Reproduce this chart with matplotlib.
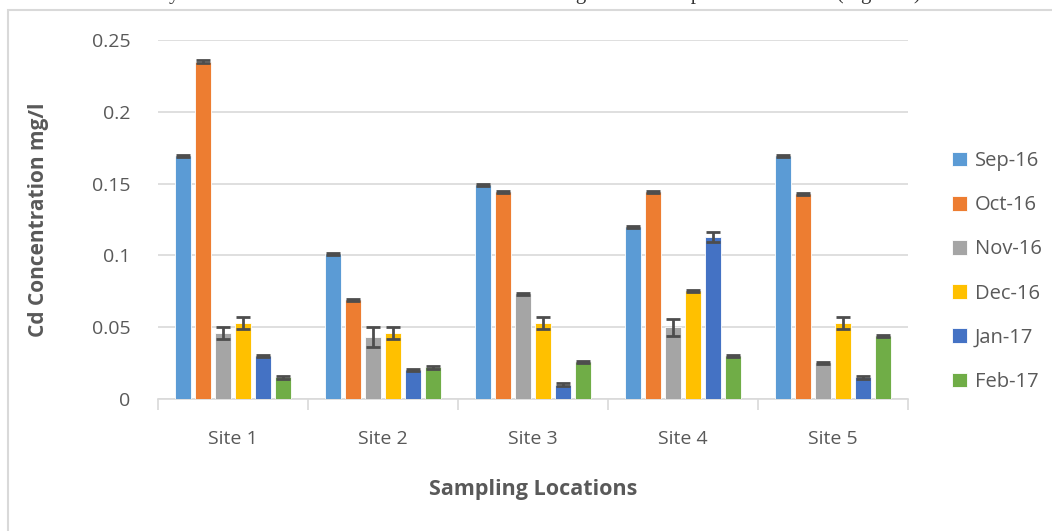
import numpy as np
import matplotlib
matplotlib.use("Agg")
import matplotlib.pyplot as plt
from matplotlib.patches import Rectangle

sites = ["Site 1", "Site 2", "Site 3", "Site 4", "Site 5"]
months = ["Sep-16", "Oct-16", "Nov-16", "Dec-16", "Jan-17", "Feb-17"]
colors = ["#5B9BD5", "#ED7D31", "#A5A5A5", "#FFC000", "#4472C4", "#70AD47"]

sep16 = [0.169, 0.101, 0.149, 0.120, 0.169]
oct16 = [0.235, 0.069, 0.144, 0.144, 0.143]
nov16 = [0.046, 0.043, 0.073, 0.050, 0.025]
dec16 = [0.053, 0.046, 0.053, 0.075, 0.053]
jan17 = [0.030, 0.020, 0.010, 0.113, 0.015]
feb17 = [0.015, 0.022, 0.026, 0.030, 0.044]

sep16_err = [0.0008, 0.0008, 0.0008, 0.0008, 0.0008]
oct16_err = [0.0008, 0.0008, 0.0008, 0.0008, 0.0008]
nov16_err = [0.004, 0.007, 0.0008, 0.006, 0.0008]
dec16_err = [0.004, 0.004, 0.004, 0.0008, 0.004]
jan17_err = [0.0008, 0.0008, 0.0008, 0.0035, 0.0008]
feb17_err = [0.0008, 0.0008, 0.0008, 0.0008, 0.0008]

series = [sep16, oct16, nov16, dec16, jan17, feb17]
errors = [sep16_err, oct16_err, nov16_err, dec16_err, jan17_err, feb17_err]

plt.rcParams["font.family"] = ["Open Sans", "DejaVu Sans"]

fig = plt.figure(figsize=(10.52, 5.31), dpi=100)
ax = fig.add_axes([158/1052, 1-399/531, 750/1052, 359/531])

# outer chart border (partly cut off in the reference)
fig.patches.append(Rectangle((8/1052, -0.1), 1.2, 1-10/531+0.1, transform=fig.transFigure,
                             fill=False, edgecolor="#D9D9D9", linewidth=1.5))
fig.text(0.5, 1.012, "nt ary l mits of t able 3. The result was found to be higher than the permissible limit (Figure 3)",
         ha="center", va="center", fontsize=15, family="Liberation Serif", color="#333333")

x = np.arange(len(sites))
pitch = 0.133
width = 0.107
for i, (vals, errs) in enumerate(zip(series, errors)):
    pos = x + (i - 2.5) * pitch
    ax.bar(pos, vals, width, color=colors[i], label=months[i], zorder=3,
           edgecolor="white", linewidth=0.6)
    ax.errorbar(pos, vals, yerr=errs, fmt="none", ecolor="#4D4D4D", elinewidth=2,
                capsize=5, capthick=2, zorder=4)

ax.set_ylim(0, 0.25)
ax.set_xlim(-0.5, 4.5)
ax.set_yticks([0, 0.05, 0.1, 0.15, 0.2, 0.25])
ax.set_yticklabels(["0", "0.05", "0.1", "0.15", "0.2", "0.25"])
ax.yaxis.grid(True, color="#D9D9D9", linewidth=1.2, zorder=0)
ax.set_axisbelow(True)
for s in ["top", "right", "left"]:
    ax.spines[s].set_visible(False)
ax.spines["bottom"].set_color("#D9D9D9")
ax.spines["bottom"].set_linewidth(1.2)
ax.tick_params(axis="y", length=0, labelsize=14, colors="#595959", pad=20)
ax.set_xticks(x)
ax.set_xticklabels(sites)
ax.tick_params(axis="x", length=0, labelsize=14, colors="#595959", pad=22)
ax.set_xticks(np.arange(-0.5, 5, 1), minor=True)
ax.tick_params(axis="x", which="minor", length=8, color="#D9D9D9", width=1.2)

ax.set_ylabel("Cd Concentration mg/l", fontsize=15, fontweight="bold", color="#595959", labelpad=31)
ax.set_xlabel("Sampling Locations", fontsize=15.5, fontweight="bold", color="#595959", labelpad=23)

leg = ax.legend(loc="center left", bbox_to_anchor=(1.035, 0.355), frameon=False, fontsize=14.5,
                handlelength=0.75, handleheight=0.75, handletextpad=0.35, labelspacing=1.2)
for t in leg.get_texts():
    t.set_color("#595959")

fig.savefig("out.png", dpi=100)
